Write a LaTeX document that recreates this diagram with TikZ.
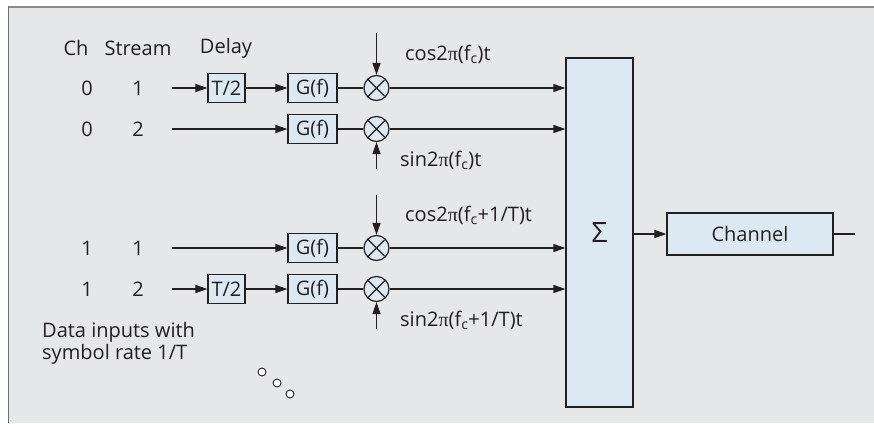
\documentclass[tikz,border=0pt]{standalone}
\usepackage{fontspec}
\setmainfont{Open Sans}
\newfontfamily\pifont{Liberation Serif}
\newcommand\uprightpi{{\pifont π}}
\usetikzlibrary{arrows.meta,positioning}
\definecolor{panel-gray}{HTML}{E6E7E8}
\definecolor{frame-gray}{HTML}{8B8B8B}
\definecolor{box-blue}{HTML}{DCE9F3}
\definecolor{ink}{HTML}{231F20}
\tikzset{
    plain-text/.style = {font=\fontsize{20}{22}\selectfont, text=ink, inner sep=0pt},
    block-box/.style = {draw=ink, fill=box-blue, line width=1.2pt, rectangle, minimum height=29pt, inner sep=0pt, plain-text},
    mixer-node/.style = {draw=ink, fill=box-blue, circle, line width=1.2pt, minimum size=25pt, inner sep=0pt,
        path picture={\draw[ink, line width=1.2pt] (path picture bounding box.north west) -- (path picture bounding box.south east)
            (path picture bounding box.north east) -- (path picture bounding box.south west);}},
    flow-arrow/.style = {draw=ink, line width=1.3pt, -{Triangle[length=12pt,width=8pt]}},
}

\begin{document}
\begin{tikzpicture}[x=1pt, y=-1pt]
\useasboundingbox (0,0) rectangle (874,423);
% panel
\fill[panel-gray] (8,7) rectangle (874,423);
\draw[frame-gray, line width=2.5pt] (8,7) -- (874,7);
\draw[frame-gray!80!black, line width=1.4pt] (8.5,7) -- (8.5,423);

% column heads
\node[plain-text] (ch) at (76,48) {Ch};
\node[plain-text] (stream) at (138,48) {Stream};
\node[plain-text] (delay) at (226,48) {Delay};

% summer and channel
\node[block-box, minimum width=67pt, minimum height=349pt, font=\fontsize{28}{30}\selectfont] (sum) at (599.5,232.5) {Σ};
\node[block-box, minimum width=166pt, minimum height=42pt] (channel) at (750,234) {Channel};
\draw[flow-arrow] (sum.east |- channel.west) -- (channel.west);
\coordinate (out) at (855,234);
\draw[ink, line width=1.3pt] (channel.east) -- (out);

% the four streams
\foreach \row/\y/\chan/\strm in {1/88/0/1, 2/129/0/2, 3/248/1/1, 4/289/1/2} {
    \node[plain-text] (ch-\row) at (87,\y) {\chan};
    \node[plain-text] (st-\row) at (138,\y) {\strm};
    \coordinate (in-\row) at (172,\y);
    \node[block-box, minimum width=49pt] (g-\row) at (312.5,\y) {G(f)};
    \node[mixer-node] (mix-\row) at (376.5,\y) {};
    \draw[ink, line width=1.3pt] (g-\row) -- (mix-\row);
    \draw[flow-arrow] (mix-\row) -- (mix-\row -| sum.west);
}

% delays
\node[block-box, minimum width=37pt] (d-1) at (226.5,88) {T/2};
\node[block-box, minimum width=37pt] (d-4) at (226.5,289) {T/2};
\draw[flow-arrow] (in-1) -- (d-1);
\draw[flow-arrow] (d-1) -- (g-1);
\draw[flow-arrow] (in-2) -- (g-2);
\draw[flow-arrow] (in-3) -- (g-3);
\draw[flow-arrow] (in-4) -- (d-4);
\draw[flow-arrow] (d-4) -- (g-4);

% carriers
\coordinate (car-1) at (376.5,33);
\coordinate (car-2) at (376.5,169);
\coordinate (car-3) at (376.5,195);
\coordinate (car-4) at (376.5,329);
\foreach \row in {1,2,3,4} \draw[flow-arrow] (car-\row) -- (mix-\row);
\node[plain-text, anchor=west] (cos-1) at (405,54) {cos2\uprightpi(f\textsubscript{c})t};
\node[plain-text, anchor=west] (sin-2) at (400,160) {sin2\uprightpi(f\textsubscript{c})t};
\node[plain-text, anchor=west] (cos-3) at (405,215) {cos2\uprightpi(f\textsubscript{c}+1/T)t};
\node[plain-text, anchor=west] (sin-4) at (400,320) {sin2\uprightpi(f\textsubscript{c}+1/T)t};

% note and dots
\node[plain-text, anchor=north west, align=left] (data-note) at (42,322) {Data inputs with\\symbol rate 1/T};
\foreach \i/\x/\y in {1/262/372, 2/277/383, 3/290/394}
    \node[circle, draw=ink, fill=white, line width=0.9pt, minimum size=8pt, inner sep=0pt] (dot-\i) at (\x,\y) {};
\end{tikzpicture}
\end{document}
